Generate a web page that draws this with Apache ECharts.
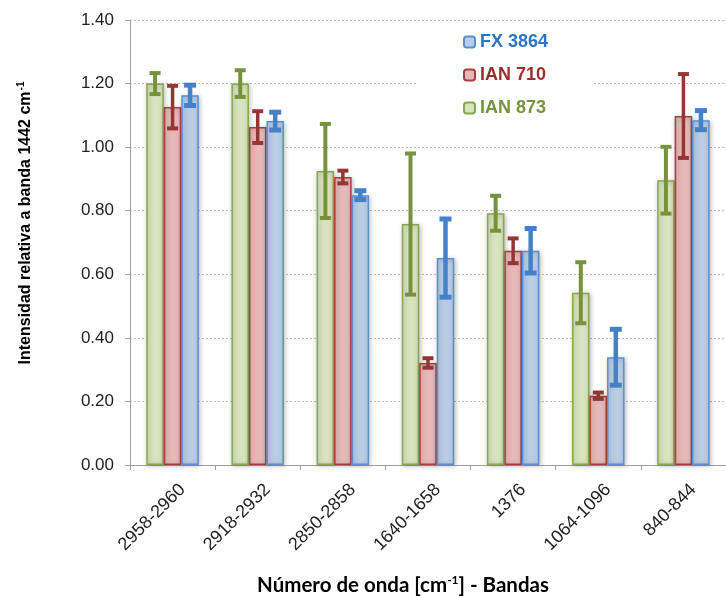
<!DOCTYPE html>
<html>
<head>
<meta charset="utf-8">
<script src="https://cdn.jsdelivr.net/npm/echarts@6/dist/echarts.min.js"></script>
<style>html,body{margin:0;padding:0;background:#fff}#c{width:726px;height:596px}</style>
</head>
<body>
<div id="c"></div>
<script>
const categories = ['2958-2960','2918-2932','2850-2858','1640-1658','1376','1064-1096','840-844'];
const ian873 = [1.200, 1.200, 0.925, 0.758, 0.792, 0.542, 0.896];
const ian873Err = [0.033, 0.042, 0.148, 0.222, 0.055, 0.096, 0.105];
const ian710 = [1.126, 1.063, 0.906, 0.321, 0.674, 0.218, 1.098];
const ian710Err = [0.067, 0.050, 0.020, 0.015, 0.039, 0.010, 0.132];
const fx3864 = [1.163, 1.082, 0.849, 0.651, 0.674, 0.339, 1.085];
const fx3864Err = [0.032, 0.028, 0.014, 0.123, 0.070, 0.088, 0.030];

const BAR_W = 17.5;
const chart = echarts.init(document.getElementById('c'));

function errRender(offsetIdx, color, stemW, capW, hw) {
  return function (params, api) {
    const i = api.value(0), v = api.value(1), e = api.value(2);
    const c = api.coord([i, v]);
    const t = api.coord([i, v + e]);
    const b = api.coord([i, v - e]);
    const x = c[0] + offsetIdx * BAR_W;
    return {
      type: 'group',
      children: [
        { type: 'line', shape: { x1: x, y1: t[1], x2: x, y2: b[1] }, style: { stroke: color, lineWidth: stemW } },
        { type: 'line', shape: { x1: x - hw, y1: t[1], x2: x + hw, y2: t[1] }, style: { stroke: color, lineWidth: capW } },
        { type: 'line', shape: { x1: x - hw, y1: b[1], x2: x + hw, y2: b[1] }, style: { stroke: color, lineWidth: capW } }
      ]
    };
  };
}
function errData(vals, errs) { return vals.map((v, i) => [i, v, errs[i]]); }

const barShadow = { shadowBlur: 5, shadowColor: 'rgba(0,0,0,0.28)', shadowOffsetX: 1, shadowOffsetY: 1 };

chart.setOption({
  animation: false,
  backgroundColor: '#ffffff',
  grid: { left: 130, top: 20, width: 607, height: 445, containLabel: false },
  legend: {
    orient: 'vertical',
    left: 418, top: 25,
    padding: [7, 46, 7, 45],
    backgroundColor: '#ffffff',
    itemWidth: 11, itemHeight: 11, itemGap: 13,
    icon: 'roundRect',
    textStyle: { fontFamily: 'Liberation Sans', fontWeight: 'bold', fontSize: 18, lineHeight: 20 },
    data: [
      { name: 'FX 3864', textStyle: { color: '#2c74c6' } },
      { name: 'IAN 710', textStyle: { color: '#9a2f2d' } },
      { name: 'IAN 873', textStyle: { color: '#77933c' } }
    ]
  },
  xAxis: {
    type: 'category',
    data: categories,
    axisLine: { lineStyle: { color: '#a0a0a0', width: 1 } },
    axisTick: { show: true, alignWithLabel: false, length: 5, lineStyle: { color: '#a0a0a0' } },
    axisLabel: { rotate: 45, margin: 12, verticalAlign: 'top', padding: [5, 0, 0, 0],
      fontFamily: 'Liberation Sans', fontSize: 18, color: '#222' },
    splitLine: { show: false }
  },
  yAxis: {
    type: 'value', min: 0, max: 1.4, interval: 0.2,
    axisLine: { show: true, lineStyle: { color: '#a0a0a0', width: 1 } },
    axisTick: { show: true, length: 5, lineStyle: { color: '#a0a0a0' } },
    axisLabel: { margin: 16, fontFamily: 'Liberation Sans', fontSize: 17, color: '#222', formatter: v => v.toFixed(2) },
    splitLine: { show: true, lineStyle: { color: '#bdbdbd', type: [2, 2], width: 1 } }
  },
  series: [
    { name: 'IAN 873', type: 'bar', data: ian873, barWidth: BAR_W, barGap: '0%',
      itemStyle: Object.assign({ color: '#d7e4bd', borderColor: '#86a84e', borderWidth: 1.5 }, barShadow) },
    { name: 'IAN 710', type: 'bar', data: ian710, barWidth: BAR_W, barGap: '0%',
      itemStyle: Object.assign({ color: '#e6b9b8', borderColor: '#a3403e', borderWidth: 1.5 }, barShadow) },
    { name: 'FX 3864', type: 'bar', data: fx3864, barWidth: BAR_W, barGap: '0%',
      itemStyle: Object.assign({ color: '#b9cde5', borderColor: '#5b8ed0', borderWidth: 1.5 }, barShadow) },
    { name: 'err873', type: 'custom', data: errData(ian873, ian873Err), renderItem: errRender(-1, '#76923c', 4, 4, 5.5), encode: { x: 0, y: 1 }, z: 5 },
    { name: 'err710', type: 'custom', data: errData(ian710, ian710Err), renderItem: errRender(0, '#953634', 3.5, 4, 5.5), encode: { x: 0, y: 1 }, z: 5 },
    { name: 'err3864', type: 'custom', data: errData(fx3864, fx3864Err), renderItem: errRender(1, '#4581c7', 4.5, 5, 6), encode: { x: 0, y: 1 }, z: 5 }
  ],
  graphic: [
    { type: 'text', x: 26, y: 223, rotation: Math.PI / 2,
      style: { text: '{b|Intensidad relativa a banda 1442 cm}{s|-1}', align: 'center', verticalAlign: 'middle',
        rich: { b: { fontFamily: 'Liberation Sans', fontWeight: 'bold', fontSize: 16, color: '#000' },
                s: { fontFamily: 'Liberation Sans', fontWeight: 'bold', fontSize: 10, color: '#000', padding: [0, 0, 9, 1] } } } },
    { type: 'text', x: 403, y: 585,
      style: { text: '{b|Número de onda [cm}{s|-1}{b|] - Bandas}', align: 'center', verticalAlign: 'middle',
        rich: { b: { fontFamily: 'Lato', fontWeight: 'bold', fontSize: 20.5, color: '#000' },
                s: { fontFamily: 'Lato', fontWeight: 'bold', fontSize: 12, color: '#000', padding: [0, 0, 10, 0] } } } }
  ]
});
</script>
</body>
</html>
